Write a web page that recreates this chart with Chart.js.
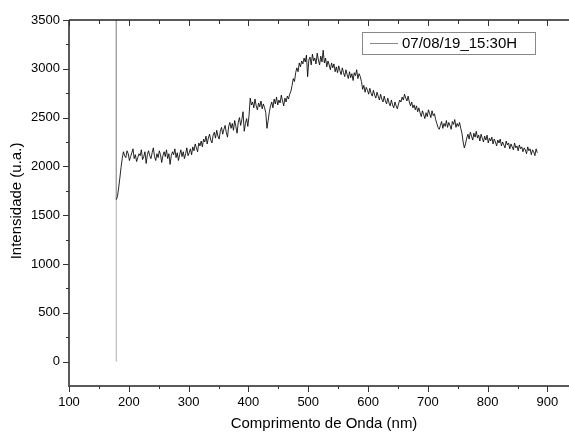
<!DOCTYPE html>
<html><head><meta charset="utf-8">
<script src="https://cdn.jsdelivr.net/npm/chart.js@4"></script>
<style>html,body{margin:0;padding:0;background:#fff;}#wrap{width:569px;height:432px;position:relative;}</style>
</head><body><div id="wrap"><canvas id="c" width="569" height="432"></canvas></div>
<script>
const seriesLabel = "07/08/19_15:30H";
const xTitle = "Comprimento de Onda (nm)";
const yTitle = "Intensidade (u.a.)";
// detector glitch at the start of the record
const spikeX = [179, 179];
const spikeY = [0, 3900];
// wavelength grid of the sampled spectrum (nm)
const startX = 179, stepX = 2;
const intensity = [
1660,1690,1780,1880,1990,2080,
2150,2110,2090,2160,2130,2060,2100,2140,2180,2080,
2120,2050,2090,2130,2110,2170,2070,2100,2150,2030,
2120,2160,2110,2080,2140,2190,2100,2060,2130,2090,
2160,2120,2040,2110,2150,2100,2170,2080,2130,2020,
2110,2150,2120,2180,2090,2140,2060,2120,2170,2100,
2150,2080,2130,2190,2110,
2140,2180,2120,2200,2160,2230,2190,2150,2240,2210,
2260,2200,2280,2250,2310,2230,2290,2330,2270,2240,
2320,2350,2290,2370,2310,2280,2360,2400,2330,2380,
2420,2350,2300,2410,2450,2390,2440,2370,2470,2410,
2340,2450,2500,2420,2480,2560,2360,2440,2490,2410,
2520,2700,2630,2660,2600,2690,2620,2580,2650,2610,2670,2590,2640,2600,2550,
2390,2470,2560,
2620,2660,2600,2690,2640,2710,2630,2680,2650,2730,2670,2620,2700,2660,2720,2690,2740,
2770,2830,2900,2870,2960,3010,2970,3060,3020,3080,
3050,3110,3070,3140,2920,3090,3120,3040,3150,3080,
3110,3050,3160,3090,3040,3130,3070,3190,3060,3110,
3020,3080,3040,2990,3060,3010,3050,2970,3020,2960,
3030,2980,2940,3010,2960,2920,2990,2940,2900,2970,
2910,2950,2880,2960,2930,2990,2900,2950,2920,2870,
2790,2830,2760,2810,2780,2740,2800,2750,2720,2780,
2730,2700,2760,2720,2680,2740,2690,2660,2720,2670,
2640,2700,2650,2620,2680,2630,2600,2660,2620,2590,
2640,2680,2660,2710,2680,2740,2700,2670,2720,2660,
2620,2660,2600,2630,2580,2620,2560,2600,2550,2510,
2570,2530,2490,2550,2510,2580,2540,2500,2570,2520,2540,
2480,2440,2400,2380,
2420,2460,2390,2440,2410,2470,2400,2450,2420,2380,
2460,2430,2480,2400,2440,2410,2450,2390,
2340,2250,2190,2230,
2290,2330,2280,2350,2310,2270,2340,2300,2360,2290,
2320,2260,2330,2290,2250,2310,2270,2320,2240,2290,
2260,2300,2230,2280,2250,2210,2270,2240,2280,2210,
2250,2220,2190,2260,2220,2240,2180,2230,2200,2170,
2240,2190,2210,2160,2220,2180,2200,2150,2190,2170,
2130,2200,2160,2180,2120,2170,2150,2110,2180,2140
];
const xTicks = [100,200,300,400,500,600,700,800,900];
const xMinor = [150,250,350,450,550,650,750,850];
const yTicks = [0,500,1000,1500,2000,2500,3000,3500];
const yMinor = [250,750,1250,1750,2250,2750,3250];
const xRange = [100, 936];
const yRange = [-250, 3500];

const FONT = "'Liberation Sans', Arial, sans-serif";

const points = [];
spikeX.forEach((x,i)=>points.push({x:x, y:spikeY[i]}));
intensity.forEach((v,i)=>points.push({x:startX + i*stepX, y:v}));

const decor = {
  id:'decor',
  afterDraw(chart){
    const {ctx, chartArea:a, scales:{x, y}} = chart;
    ctx.save();
    ctx.lineCap = 'butt';
    ctx.strokeStyle = '#5a5a5a';
    ctx.lineWidth = 2;
    ctx.beginPath();
    ctx.moveTo(a.left, a.top); ctx.lineTo(a.left, a.bottom);
    ctx.moveTo(a.left-1, a.bottom); ctx.lineTo(a.right, a.bottom);
    ctx.stroke();
    ctx.strokeStyle = '#222';
    ctx.lineWidth = 1.3;
    ctx.beginPath();
    ctx.moveTo(a.left, a.top); ctx.lineTo(a.right, a.top);
    ctx.stroke();
    ctx.strokeStyle = '#333';
    ctx.lineWidth = 1;
    ctx.beginPath();
    yTicks.forEach(v=>{const p=Math.round(y.getPixelForValue(v))+0.5; ctx.moveTo(a.left-6,p); ctx.lineTo(a.left,p);});
    yMinor.forEach(v=>{const p=Math.round(y.getPixelForValue(v))+0.5; ctx.moveTo(a.left-3,p); ctx.lineTo(a.left,p);});
    xTicks.forEach(v=>{const p=Math.round(x.getPixelForValue(v))+0.5; ctx.moveTo(p,a.bottom); ctx.lineTo(p,a.bottom+6); ctx.moveTo(p,a.top); ctx.lineTo(p,a.top+6);});
    xMinor.forEach(v=>{const p=Math.round(x.getPixelForValue(v))+0.5; ctx.moveTo(p,a.bottom); ctx.lineTo(p,a.bottom+3); ctx.moveTo(p,a.top); ctx.lineTo(p,a.top+4);});
    ctx.stroke();
    ctx.fillStyle = '#000';
    ctx.font = '15px ' + FONT;
    ctx.textAlign = 'center';
    ctx.textBaseline = 'middle';
    ctx.fillText(xTitle, 324, 424);
    ctx.save();
    ctx.translate(17, 201);
    ctx.rotate(-Math.PI/2);
    ctx.fillText(yTitle, 0, 0);
    ctx.restore();
    ctx.fillStyle = '#fff';
    ctx.fillRect(362, 32, 173, 22);
    ctx.strokeStyle = '#888';
    ctx.lineWidth = 1;
    ctx.strokeRect(362.5, 32.5, 173, 22);
    ctx.beginPath(); ctx.moveTo(370, 43.5); ctx.lineTo(398, 43.5); ctx.stroke();
    ctx.fillStyle = '#000';
    ctx.textAlign = 'left';
    ctx.font = '15px ' + FONT;
    ctx.fillText(chart.data.datasets[0].label, 402, 44);
    ctx.restore();
  }
};

new Chart(document.getElementById('c'), {
  type:'line',
  data:{datasets:[{label:seriesLabel, data:points, borderColor:'#000', borderWidth:0.85, pointRadius:0, tension:0, fill:false,
    segment:{borderColor: c => c.p0DataIndex < 2 ? '#777' : undefined, borderWidth: c => c.p0DataIndex < 2 ? 0.6 : undefined}}]},
  options:{
    responsive:false, animation:false, devicePixelRatio:1,
    layout:{padding:{top:20,right:0,left:0,bottom:0}},
    plugins:{legend:{display:false}, tooltip:{enabled:false}},
    scales:{
      x:{type:'linear', min:xRange[0], max:xRange[1],
         afterFit(s){s.height=46;},
         afterBuildTicks(s){s.ticks = xTicks.map(v=>({value:v}));},
         grid:{display:false, drawTicks:false}, border:{display:false},
         ticks:{padding:9, color:'#000', font:{family:FONT, size:13}, maxRotation:0, autoSkip:false, callback:v=>String(v)}},
      y:{type:'linear', min:yRange[0], max:yRange[1],
         afterFit(s){s.width=69;},
         afterBuildTicks(s){s.ticks = yTicks.map(v=>({value:v}));},
         grid:{display:false, drawTicks:false}, border:{display:false},
         ticks:{padding:9, color:'#000', font:{family:FONT, size:13}, autoSkip:false, callback:v=>String(v)}}
    }
  },
  plugins:[decor]
});
</script></body></html>
